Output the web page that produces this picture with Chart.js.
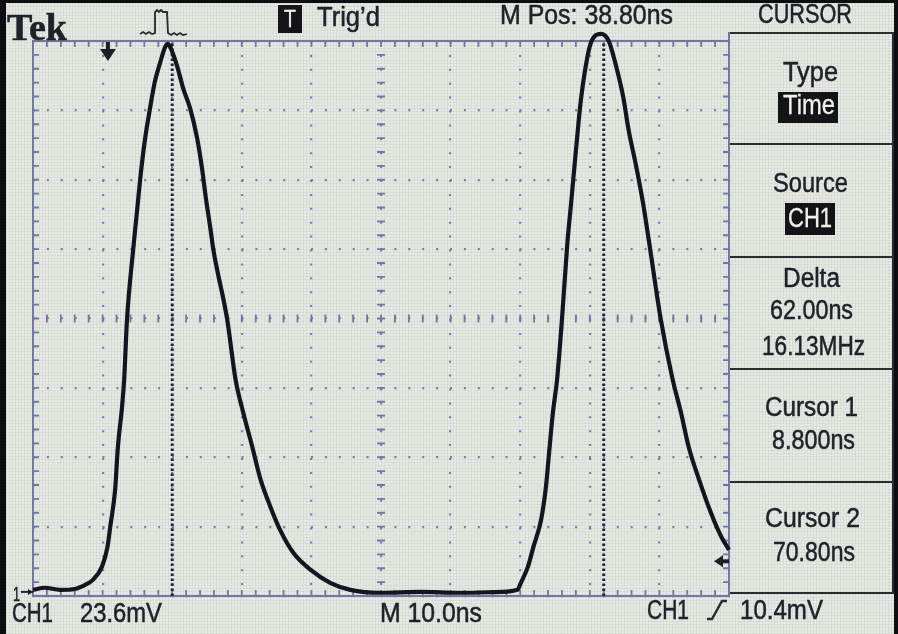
<!DOCTYPE html>
<html>
<head>
<meta charset="utf-8">
<script src="https://cdn.jsdelivr.net/npm/chart.js@4/dist/chart.umd.min.js"></script>
<style>
  html, body { margin: 0; padding: 0; background: #0e0e10; overflow: hidden; }
  #wrap { position: absolute; left: 0; top: 0; width: 898px; height: 634px; }
  #screen {
    position: absolute; left: 6px; top: 3px; width: 888px; height: 631px;
    background-color: #e7eae4;
    background-image:
      repeating-linear-gradient(0deg, rgba(140,150,140,0.13) 0 1px, transparent 1px 3px),
      repeating-linear-gradient(90deg, rgba(140,150,140,0.13) 0 1px, transparent 1px 3px);
  }
  canvas { position: absolute; left: 0; top: 0; }
  .lbl { position: absolute; white-space: nowrap; color: #202129; -webkit-text-stroke: 0.5px #202129;
         font-family: "Liberation Sans", Arial, sans-serif; transform-origin: 0 0; }
  .inv { position: absolute; background: #141418; }
  .rule { position: absolute; background: #2b2b33; }
  .edge { position: absolute; background: #7377a3; }
</style>
</head>
<body>
<div id="wrap">
  <div id="screen"></div>
  <!-- menu panel frame -->
  <div class="rule" style="left:728px; top:32px; width:166px; height:2px"></div>
  <div class="rule" style="left:892px; top:32px; width:2px; height:562px"></div>
  <div class="rule" style="left:729px; top:143px; width:164px; height:2px"></div>
  <div class="rule" style="left:729px; top:256px; width:164px; height:2px"></div>
  <div class="rule" style="left:729px; top:368px; width:164px; height:2px"></div>
  <div class="rule" style="left:729px; top:481px; width:164px; height:2px"></div>
  <div class="rule" style="left:729px; top:592px; width:165px; height:2px"></div>
  <div class="edge" style="left:728px; top:32px; width:2px; height:12px"></div>
  <!-- inverted boxes -->
  <div class="inv" style="left:278px; top:5px; width:24px; height:28px"></div>
  <div class="inv" style="left:778px; top:92px; width:60px; height:31px"></div>
  <div class="inv" style="left:785px; top:203px; width:50px; height:32px"></div>
  <canvas id="scope" width="898" height="634"></canvas>
</div>
<script>
// time axis (ns) and CH1 voltage (mV)
const timeNs = [-11.2, -9.5, -7.3, -5.2, -3.7, -2.6, -1.3, -0.5, -0.1, 0.6, 1.0, 1.6, 1.9, 2.3, 3.2,
  4.2, 4.9, 5.6, 6.3, 7.1, 7.8, 8.2, 8.8, 9.5, 10.4, 11.4, 12.4, 13.1, 13.6, 14.3, 14.7,
  16.7, 17.9, 19.0, 20.3, 21.5, 22.9, 24.3, 26.2, 28.7, 31.5, 34.4, 38.7, 44.5, 50.2, 56.0,
  58.4, 58.9, 59.9, 60.7, 61.8, 62.5, 62.9, 63.5, 64.1, 64.8, 65.6, 66.1, 66.8, 67.5, 68.2,
  68.9, 70.4, 71.5, 72.5, 73.6, 74.4, 75.4, 76.4, 77.3, 79.0, 80.7, 81.9, 83.0, 84.5, 86.2,
  87.7, 88.8];
const ch1mV = [0.7, 1.4, 0.7, 1.0, 2.4, 4.1, 8.5, 15.3, 22.2, 34.8, 49.4, 63.1, 72.3, 92.4, 116.6,
  140.4, 154.1, 164.3, 173.5, 180.3, 185.4, 186.4, 183.7, 178.9, 171.1, 164.3, 154.1, 143.8, 134.6, 123.4, 116.6,
  92.7, 72.3, 61.0, 49.4, 38.2, 29.0, 21.1, 13.3, 7.5, 3.1, 0.7, -0.3, 0, -0.3, 0,
  0.7, 3.1, 8.5, 15.3, 24.5, 35.8, 46.0, 61.0, 72.3, 92.7, 119.3, 131.9, 150.0, 167.0, 178.6,
  186.4, 189.8, 187.5, 179.6, 168.4, 156.8, 145.5, 132.9, 119.3, 92.7, 72.3, 61.0, 49.4, 38.2, 26.9,
  18.7, 14.3];

const cursorNs = [8.8, 70.8];
const triggerNs = 0;
const triggerLevelMv = 10.4;

// screen settings: M Pos 38.80 ns, 10.0 ns/div, 23.6 mV/div, 10 x 8 divisions
const xMin = -11.2, xDiv = 10.0, xDivs = 10;
const yMin = -1.4, yDiv = 23.6, yDivs = 8;
const xMax = xMin + xDiv * xDivs, yMax = yMin + yDiv * yDivs;

// [text, left, baseline, width, size, kind]
const labels = [
  ['Tek', 7, 40, 60, 37, 'serif'],
  ['T', 284, 27, 12, 24, 'inv'],
  ['Trig\u2019d', 317, 27, 63, 28],
  ['M Pos: 38.80ns', 500, 25, 173, 28],
  ['CURSOR', 758, 24, 94, 27],
  ['Type', 783, 82, 55, 28],
  ['Time', 783, 115, 52, 27, 'inv'],
  ['Source', 773, 193, 75, 28],
  ['CH1', 788, 228, 44, 27, 'inv'],
  ['Delta', 783, 288, 57, 27],
  ['62.00ns', 770, 320, 83, 27],
  ['16.13MHz', 762, 356, 103, 27],
  ['Cursor 1', 765, 417, 93, 27],
  ['8.800ns', 772, 450, 83, 27],
  ['Cursor 2', 765, 528, 95, 27],
  ['70.80ns', 773, 562, 82, 27],
  ['1', 13, 601, 7, 21],
  ['CH1', 12, 623, 41, 27],
  ['23.6mV', 80, 623, 82, 27],
  ['M 10.0ns', 380, 623, 102, 27],
  ['CH1', 647, 620, 42, 27],
  ['10.4mV', 740, 620, 83, 27]
];

const divTicks = (min, step, n) => Array.from({length: n + 1}, (_, k) => ({value: min + k * step}));

const scopePlugin = {
  id: 'scope',
  beforeDatasetsDraw(chart) {
    const {ctx, chartArea: a, scales: {x, y}} = chart;
    const xc = x.getPixelForValue(xMin + xDiv * xDivs / 2);
    const yc = y.getPixelForValue(yMin + yDiv * yDivs / 2);
    ctx.save();
    ctx.strokeStyle = '#7377a3';
    ctx.lineWidth = 2;
    ctx.strokeRect(a.left, a.top, a.right - a.left, a.bottom - a.top);
    ctx.lineWidth = 1.8;
    ctx.beginPath();
    for (let k = 1; k < xDivs * 5; k++) {
      const px = x.getPixelForValue(xMin + k * xDiv / 5);
      ctx.moveTo(px, a.top); ctx.lineTo(px, a.top + 6);
      ctx.moveTo(px, a.bottom); ctx.lineTo(px, a.bottom - 6);
      ctx.moveTo(px, yc - 4); ctx.lineTo(px, yc + 4);
    }
    for (let k = 1; k < yDivs * 5; k++) {
      const py = y.getPixelForValue(yMin + k * yDiv / 5);
      ctx.moveTo(a.left, py); ctx.lineTo(a.left + 6, py);
      ctx.moveTo(a.right, py); ctx.lineTo(a.right - 6, py);
      ctx.moveTo(xc - 4, py); ctx.lineTo(xc + 4, py);
    }
    ctx.stroke();
    ctx.restore();
  },
  afterDatasetsDraw(chart) {
    const {ctx, chartArea: a, scales: {x, y}} = chart;
    ctx.save();
    ctx.fillStyle = '#1e1e2a';
    ctx.strokeStyle = '#1e1e2a';
    // trigger position arrow
    const tx = x.getPixelForValue(triggerNs) - 3;
    ctx.fillRect(tx - 2, a.top + 1, 4, 8);
    ctx.beginPath();
    ctx.moveTo(tx - 8, a.top + 8); ctx.lineTo(tx + 8, a.top + 8); ctx.lineTo(tx, a.top + 20);
    ctx.closePath(); ctx.fill();
    // ground marker
    const gy = y.getPixelForValue(0);
    ctx.lineWidth = 2;
    ctx.beginPath(); ctx.moveTo(21, gy); ctx.lineTo(a.left, gy); ctx.stroke();
    ctx.beginPath(); ctx.moveTo(a.left, gy); ctx.lineTo(a.left - 5, gy - 3); ctx.lineTo(a.left - 5, gy + 3);
    ctx.closePath(); ctx.fill();
    // trigger level marker
    const ly = y.getPixelForValue(triggerLevelMv);
    ctx.beginPath();
    ctx.moveTo(a.right - 15, ly); ctx.lineTo(a.right - 6, ly - 6); ctx.lineTo(a.right - 6, ly + 6);
    ctx.closePath(); ctx.fill();
    ctx.fillRect(a.right - 7, ly - 2, 7, 4);
    // trigger pulse icon in the header
    ctx.lineWidth = 1.8;
    ctx.strokeStyle = '#2a2a32';
    ctx.beginPath();
    [[140, 34], [143, 32], [146, 34], [149, 32], [152, 34], [155, 33], [155, 12], [157, 10], [159, 12],
     [161, 10], [163, 12], [167, 12], [168, 33], [171, 35], [174, 33], [177, 35], [180, 33], [183, 35], [187, 34]]
      .forEach(([px, py], i) => i ? ctx.lineTo(px, py) : ctx.moveTo(px, py));
    ctx.stroke();
    // rising edge symbol
    ctx.lineWidth = 2.4;
    ctx.beginPath();
    ctx.moveTo(707, 619); ctx.lineTo(712, 619); ctx.lineTo(722, 601); ctx.lineTo(727, 601);
    ctx.stroke();
    ctx.restore();
  }
};

const cursorSets = cursorNs.map(t => ({
  data: [{x: t, y: yMin}, {x: t, y: yMax}],
  borderColor: '#24243a',
  borderWidth: 3,
  borderDash: [2.5, 2.5],
  pointRadius: 0,
  clip: 0
}));

new Chart(document.getElementById('scope'), {
  type: 'line',
  data: {
    datasets: [{
      data: timeNs.map((t, i) => ({x: t, y: ch1mV[i]})),
      borderColor: '#15151f',
      borderWidth: 4.2,
      pointRadius: 0,
      cubicInterpolationMode: 'monotone',
      clip: 12
    }, ...cursorSets]
  },
  options: {
    responsive: false,
    animation: false,
    events: [],
    layout: {padding: {left: 33, top: 41, right: 169, bottom: 38}},
    plugins: {legend: {display: false}, tooltip: {enabled: false}},
    scales: {
      x: {
        type: 'linear', min: xMin, max: xMax,
        afterBuildTicks: s => { s.ticks = divTicks(xMin, xDiv, xDivs); },
        ticks: {display: false},
        grid: {color: '#7a7ea8', lineWidth: 2.2, drawTicks: false},
        border: {display: false, dash: [2, 11.9]}
      },
      y: {
        type: 'linear', min: yMin, max: yMax,
        afterBuildTicks: s => { s.ticks = divTicks(yMin, yDiv, yDivs); },
        ticks: {display: false},
        grid: {color: '#7a7ea8', lineWidth: 2.2, drawTicks: false},
        border: {display: false, dash: [2, 11.9]}
      }
    }
  },
  plugins: [scopePlugin]
});

function placeLabels() {
  const root = document.getElementById('wrap');
  labels.forEach(([text, left, base, w, size, kind]) => {
    const el = document.createElement('div');
    el.className = 'lbl';
    el.textContent = text;
    el.style.fontSize = size + 'px';
    el.style.lineHeight = size + 'px';
    if (kind === 'serif') {
      el.style.fontFamily = '"Liberation Serif", "DejaVu Serif", serif';
      el.style.fontWeight = 'bold';
    }
    if (kind === 'inv') {
      el.style.color = '#f0f1ec';
      el.style.webkitTextStroke = '0.3px #f0f1ec';
    }
    el.style.left = left + 'px';
    el.style.top = (base - (kind === 'serif' ? 0.8375 : 0.8465) * size) + 'px';
    root.appendChild(el);
    const nat = el.getBoundingClientRect().width;
    el.style.transform = 'scaleX(' + (w / nat).toFixed(3) + ')';
  });
}
placeLabels();
</script>
</body>
</html>
